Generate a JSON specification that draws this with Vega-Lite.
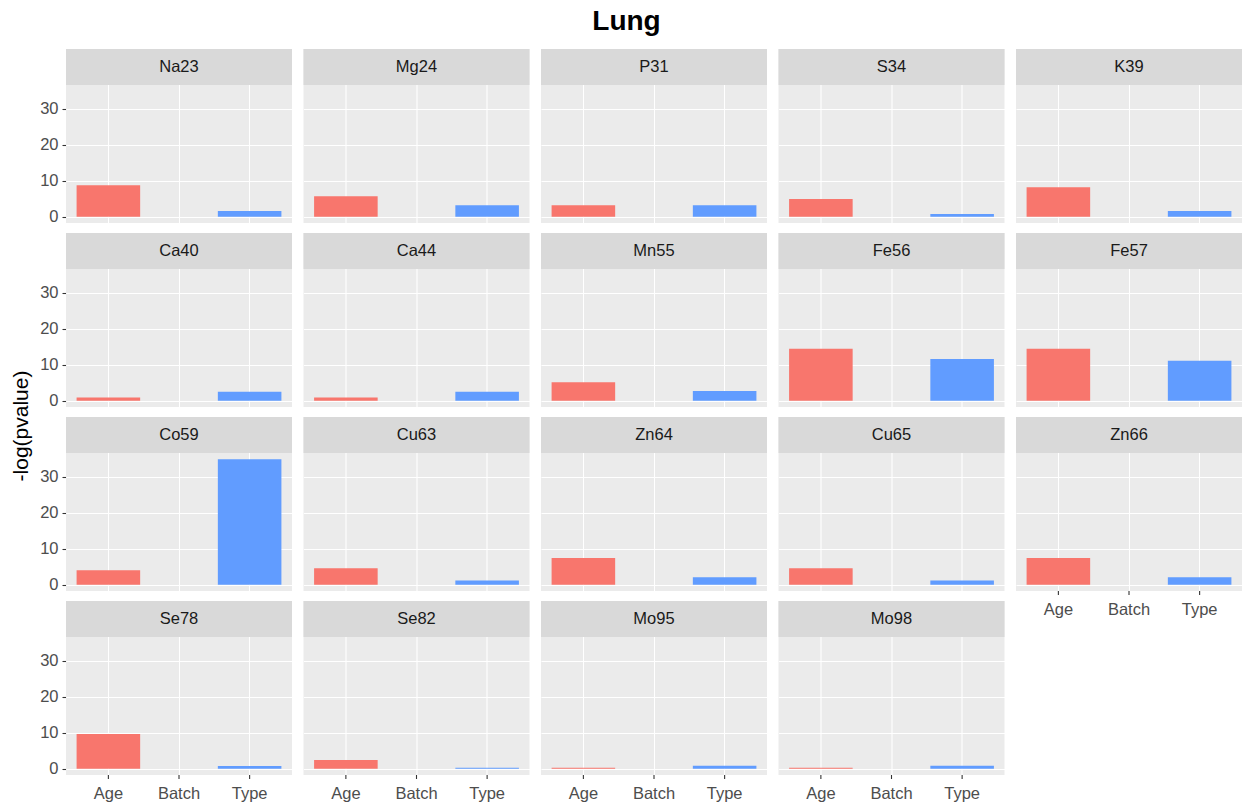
{
  "$schema": "https://vega.github.io/schema/vega-lite/v6.json",
  "background": "white",
  "padding": {"left": 10, "top": 8, "right": 0, "bottom": 0},
  "bounds": "flush",
  "title": {"text": "Lung", "fontSize": 28, "fontWeight": "bold", "font": "Liberation Sans", "color": "#000000", "anchor": "middle", "offset": 13},
  "data": {
    "values": [
      {"element": "Na23", "term": "Age", "value": 8.7}, {"element": "Na23", "term": "Batch", "value": null}, {"element": "Na23", "term": "Type", "value": 1.6},
      {"element": "Mg24", "term": "Age", "value": 5.7}, {"element": "Mg24", "term": "Batch", "value": null}, {"element": "Mg24", "term": "Type", "value": 3.2},
      {"element": "P31", "term": "Age", "value": 3.2}, {"element": "P31", "term": "Batch", "value": null}, {"element": "P31", "term": "Type", "value": 3.2},
      {"element": "S34", "term": "Age", "value": 4.9}, {"element": "S34", "term": "Batch", "value": null}, {"element": "S34", "term": "Type", "value": 0.75},
      {"element": "K39", "term": "Age", "value": 8.2}, {"element": "K39", "term": "Batch", "value": null}, {"element": "K39", "term": "Type", "value": 1.6},
      {"element": "Ca40", "term": "Age", "value": 0.9}, {"element": "Ca40", "term": "Batch", "value": null}, {"element": "Ca40", "term": "Type", "value": 2.5},
      {"element": "Ca44", "term": "Age", "value": 0.9}, {"element": "Ca44", "term": "Batch", "value": null}, {"element": "Ca44", "term": "Type", "value": 2.5},
      {"element": "Mn55", "term": "Age", "value": 5.1}, {"element": "Mn55", "term": "Batch", "value": null}, {"element": "Mn55", "term": "Type", "value": 2.7},
      {"element": "Fe56", "term": "Age", "value": 14.4}, {"element": "Fe56", "term": "Batch", "value": null}, {"element": "Fe56", "term": "Type", "value": 11.6},
      {"element": "Fe57", "term": "Age", "value": 14.4}, {"element": "Fe57", "term": "Batch", "value": null}, {"element": "Fe57", "term": "Type", "value": 11.1},
      {"element": "Co59", "term": "Age", "value": 4.05}, {"element": "Co59", "term": "Batch", "value": null}, {"element": "Co59", "term": "Type", "value": 34.8},
      {"element": "Cu63", "term": "Age", "value": 4.6}, {"element": "Cu63", "term": "Batch", "value": null}, {"element": "Cu63", "term": "Type", "value": 1.2},
      {"element": "Zn64", "term": "Age", "value": 7.4}, {"element": "Zn64", "term": "Batch", "value": null}, {"element": "Zn64", "term": "Type", "value": 2.1},
      {"element": "Cu65", "term": "Age", "value": 4.6}, {"element": "Cu65", "term": "Batch", "value": null}, {"element": "Cu65", "term": "Type", "value": 1.2},
      {"element": "Zn66", "term": "Age", "value": 7.4}, {"element": "Zn66", "term": "Batch", "value": null}, {"element": "Zn66", "term": "Type", "value": 2.1},
      {"element": "Se78", "term": "Age", "value": 9.6}, {"element": "Se78", "term": "Batch", "value": null}, {"element": "Se78", "term": "Type", "value": 0.75},
      {"element": "Se82", "term": "Age", "value": 2.4}, {"element": "Se82", "term": "Batch", "value": null}, {"element": "Se82", "term": "Type", "value": 0.3},
      {"element": "Mo95", "term": "Age", "value": 0.3}, {"element": "Mo95", "term": "Batch", "value": null}, {"element": "Mo95", "term": "Type", "value": 0.8},
      {"element": "Mo98", "term": "Age", "value": 0.3}, {"element": "Mo98", "term": "Batch", "value": null}, {"element": "Mo98", "term": "Type", "value": 0.8}
    ]
  },
  "facet": {
    "field": "element",
    "type": "nominal",
    "sort": ["Na23", "Mg24", "P31", "S34", "K39", "Ca40", "Ca44", "Mn55", "Fe56", "Fe57", "Co59", "Cu63", "Zn64", "Cu65", "Zn66", "Se78", "Se82", "Mo95", "Mo98"],
    "header": {
      "labels": false,
      "labelExpr": "''",
      "labelFontSize": 0,
      "labelPadding": 0,
      "title": "-log(pvalue)",
      "titleOrient": "left",
      "titleAngle": 270,
      "titleFont": "Liberation Sans",
      "titleFontSize": 21,
      "titleFontWeight": "normal",
      "titleColor": "#000000",
      "titlePadding": -14
    }
  },
  "columns": 5,
  "spacing": {"row": 10, "column": 11.5},
  "spec": {
    "width": 226,
    "height": 174,
    "layer": [
      {
        "mark": {"type": "bar"},
        "encoding": {
          "x": {
            "field": "term",
            "type": "nominal",
            "scale": {"domain": ["Age", "Batch", "Type"], "paddingInner": 0.1, "paddingOuter": 0.15},
            "axis": {
              "title": null,
              "bandPosition": 0.5,
              "grid": true,
              "gridColor": "#FFFFFF",
              "gridWidth": 1.1,
              "domain": false,
              "ticks": false,
              "labels": false
            }
          },
          "y": {
            "field": "value",
            "type": "quantitative",
            "scale": {"domain": [-1.74, 46.53], "nice": false, "zero": false},
            "axis": {
              "title": null,
              "values": [0, 5, 10, 15, 20, 25, 30, 35],
              "labelExpr": "datum.value % 10 === 0 ? datum.label : ''",
              "grid": true,
              "gridColor": "#FFFFFF",
              "gridWidth": {"condition": {"test": "datum.value % 10 === 0", "value": 1.1}, "value": 0.55},
              "domain": false,
              "tickSize": 4,
              "tickWidth": 1.1,
              "tickColor": "#333333",
              "tickOpacity": {"condition": {"test": "datum.value % 10 === 0", "value": 1}, "value": 0},
              "labelFont": "Liberation Sans",
              "labelFontSize": 16.5,
              "labelColor": "#4D4D4D",
              "labelPadding": 4
            }
          },
          "y2": {"datum": 0},
          "color": {
            "field": "term",
            "type": "nominal",
            "scale": {"domain": ["Age", "Batch", "Type"], "range": ["#F8766D", "#00BA38", "#619CFF"]},
            "legend": null
          }
        }
      },
      {
        "transform": [{"filter": "datum.term === 'Age'"}],
        "mark": {"type": "rect", "color": "#D9D9D9"},
        "encoding": {
          "y": {"datum": 36.54},
          "y2": {"datum": 46.53}
        }
      },
      {
        "transform": [{"filter": "datum.term === 'Age'"}],
        "mark": {"type": "text", "font": "Liberation Sans", "fontSize": 16.5, "color": "#1A1A1A", "baseline": "middle"},
        "encoding": {
          "x": {"datum": "Batch"},
          "y": {"datum": 41.5},
          "text": {"field": "element"}
        }
      },
      {
        "transform": [{"filter": "indexof(['Zn66', 'Se78', 'Se82', 'Mo95', 'Mo98'], datum.element) >= 0"}],
        "mark": {"type": "rule", "color": "#333333", "strokeWidth": 1.1},
        "encoding": {
          "x": {"field": "term", "type": "nominal"},
          "y": {"datum": -1.74},
          "y2": {"datum": -2.85}
        }
      },
      {
        "transform": [{"filter": "indexof(['Zn66', 'Se78', 'Se82', 'Mo95', 'Mo98'], datum.element) >= 0"}],
        "mark": {"type": "text", "font": "Liberation Sans", "fontSize": 16.5, "color": "#4D4D4D", "baseline": "middle"},
        "encoding": {
          "x": {"field": "term", "type": "nominal"},
          "y": {"datum": -7.0},
          "text": {"field": "term"}
        }
      }
    ]
  },
  "config": {
    "view": {"fill": "#EBEBEB", "stroke": null},
    "axis": {"labelFont": "Liberation Sans"}
  }
}
